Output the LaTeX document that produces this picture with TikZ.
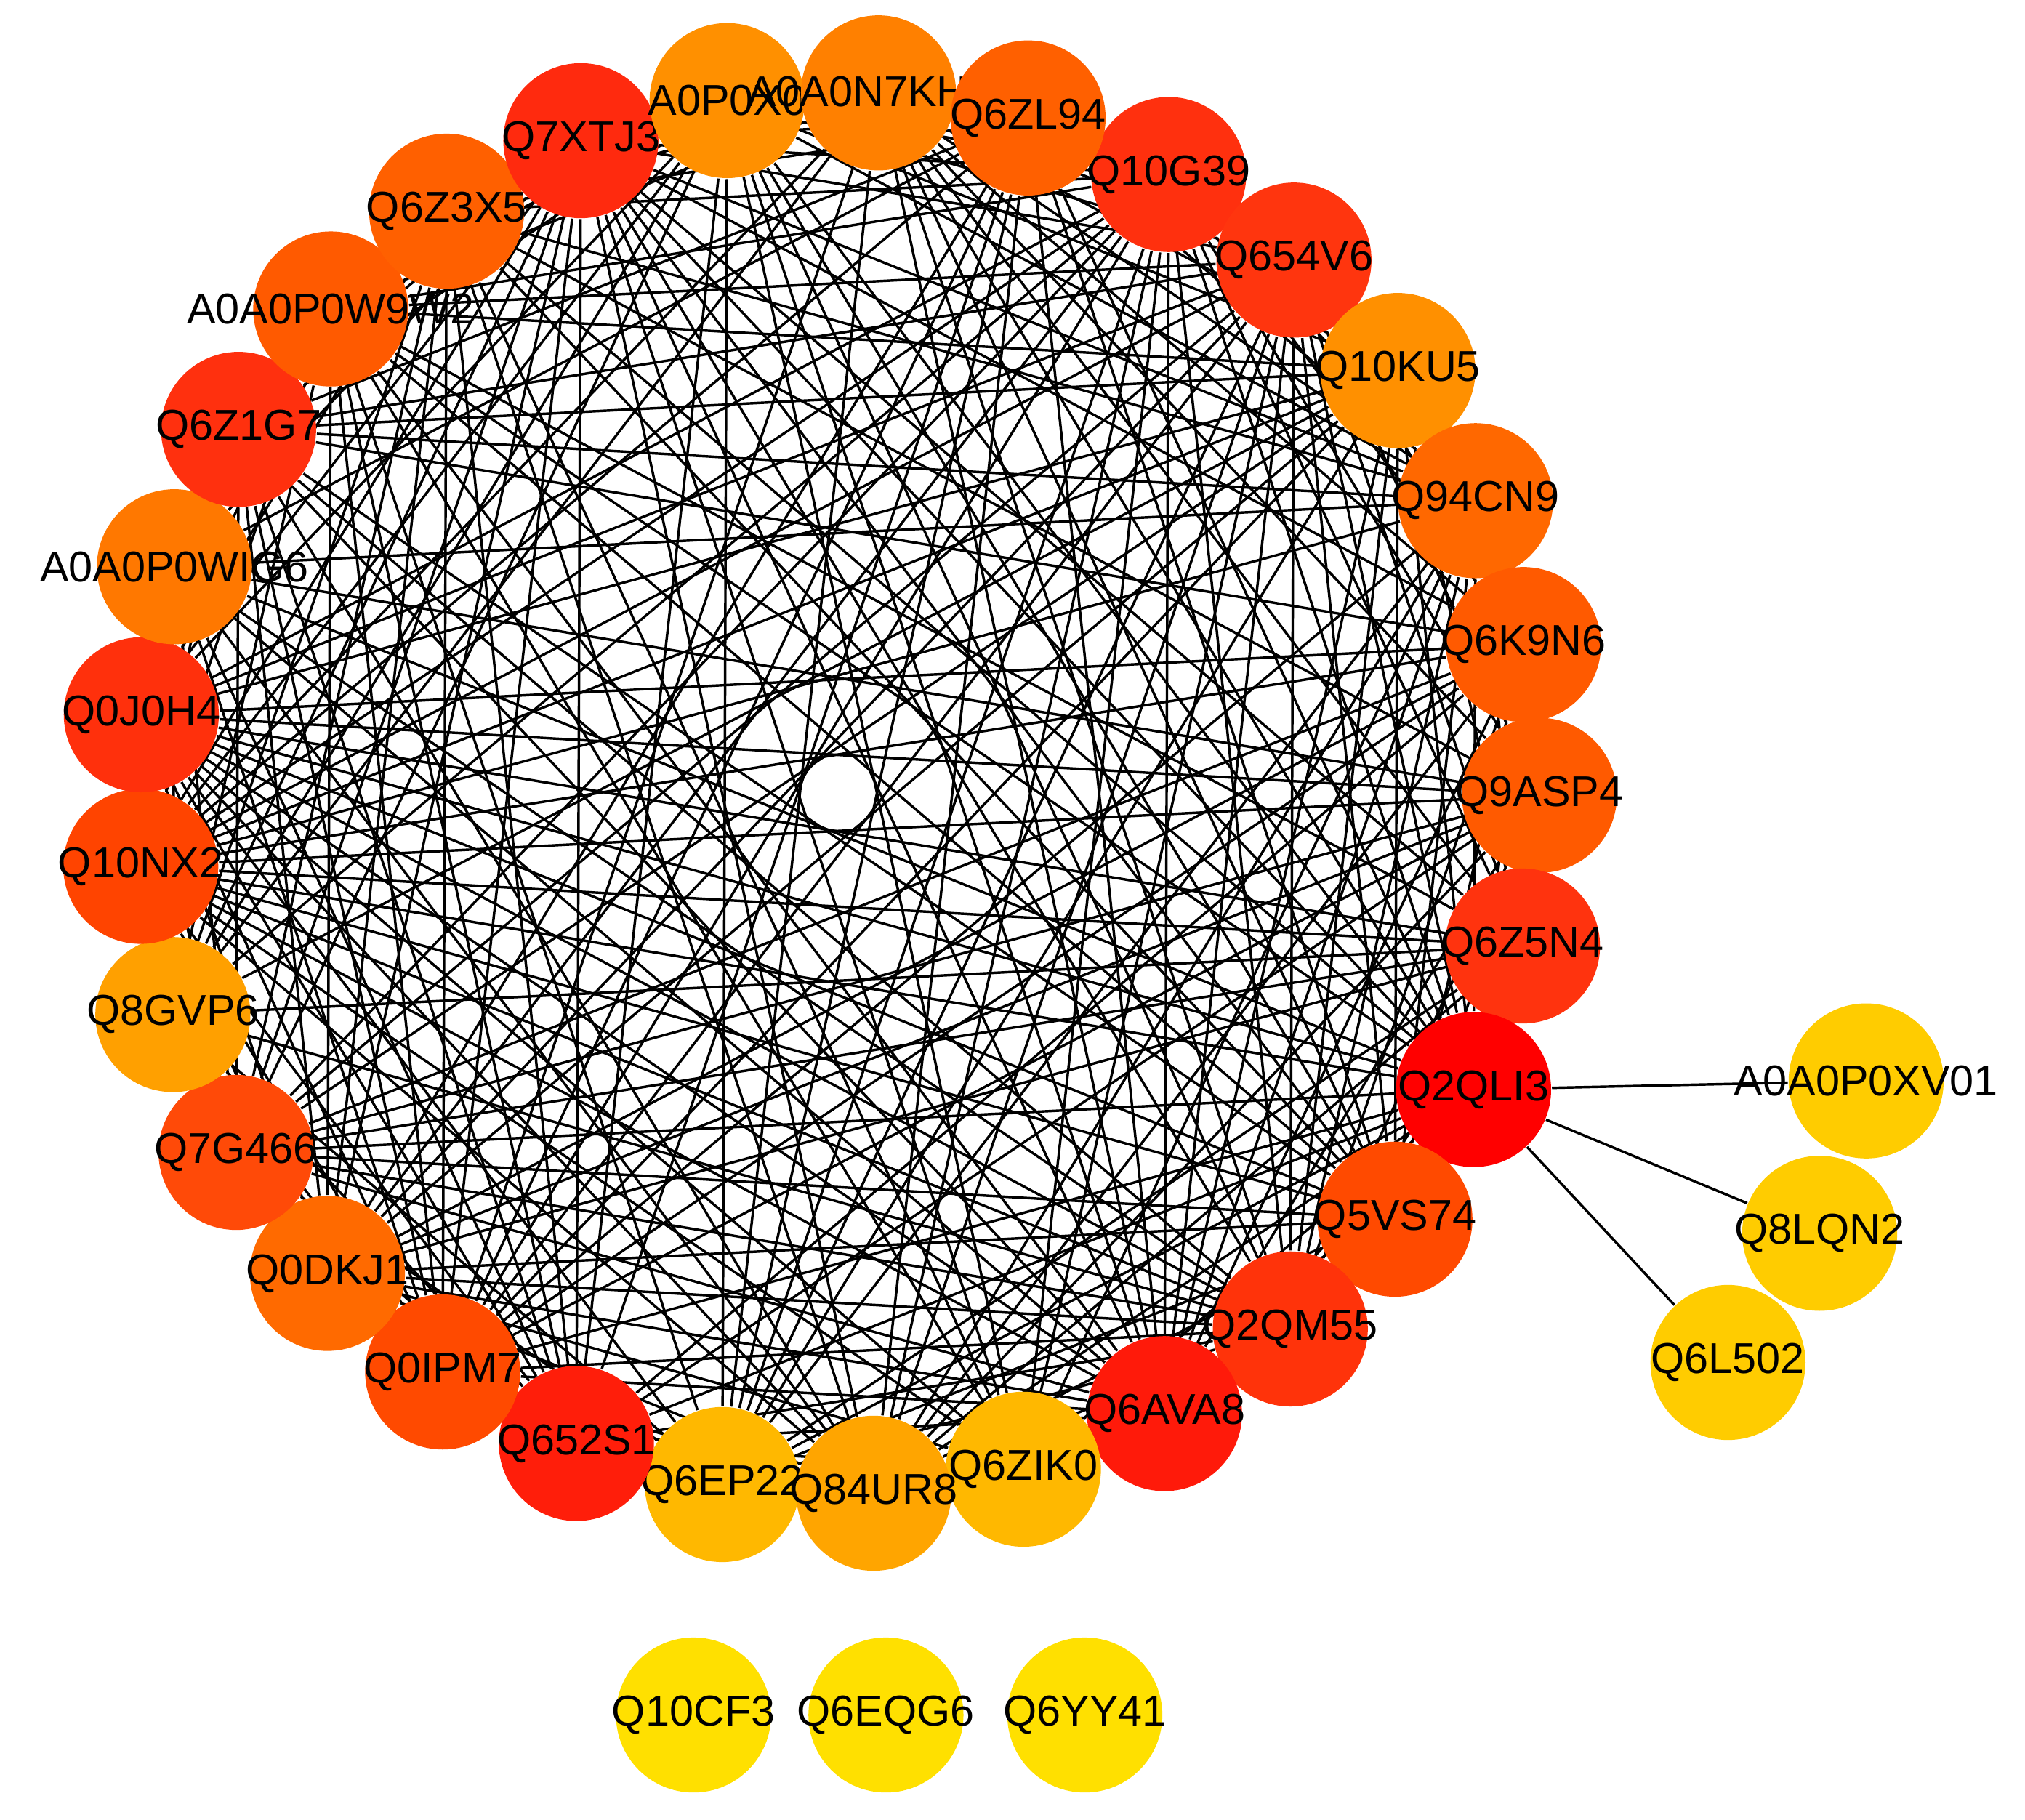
\documentclass[tikz,border=0pt]{standalone}
\usepackage{fontspec}
\setmainfont{Liberation Sans}
\pgfdeclarelayer{edges}
\pgfsetlayers{edges,main}
\definecolor{lowA}{RGB}{255,204,0}
\definecolor{lowB}{RGB}{255,224,0}
\newcommand\rnode[4]{%
  \pgfmathsetmacro\rnang{86.7-12.4138*#1}%
  \pgfmathsetmacro\rnx{649+543*cos(\rnang)}%
  \pgfmathsetmacro\rny{614-543*sin(\rnang)}%
  \definecolor{fc#1}{RGB}{255,#3,#4}%
  \node[vtx,fill=fc#1,label={[lbl]center:#2}] (n#1) at (\rnx,\rny) {};%
}
\def\gv{{128,96,48,53,144,104,90,90,51,0,74,51,26,184,165,184,30,74,106,74,160,68,48,120,48,90,96,42,144}}
\begin{document}
\begin{tikzpicture}[x=0.01cm,y=-0.01cm,
  vtx/.style={circle,minimum size=1.2cm,inner sep=0pt,draw=none},
  lbl/.style={font=\fontsize{9.5}{11}\selectfont,text=black,inner sep=0pt},
  edge/.style={line width=0.55pt,black}]
\useasboundingbox (0,0) rectangle (1568,1409);
% ring nodes (drawing order chosen to reproduce overlaps)
\rnode{2}{Q10G39}{48}{14}
\rnode{3}{Q654V6}{53}{14}
\rnode{4}{Q10KU5}{144}{0}
\rnode{5}{Q94CN9}{104}{0}
\rnode{6}{Q6K9N6}{90}{0}
\rnode{7}{Q9ASP4}{90}{0}
\rnode{8}{Q6Z5N4}{51}{14}
\rnode{9}{Q2QLI3}{0}{0}
\rnode{10}{Q5VS74}{74}{0}
\rnode{11}{Q2QM55}{51}{10}
\rnode{12}{Q6AVA8}{26}{10}
\rnode{13}{Q6ZIK0}{184}{0}
\rnode{15}{Q6EP22}{184}{0}
\rnode{14}{Q84UR8}{165}{0}
\rnode{16}{Q652S1}{30}{10}
\rnode{17}{Q0IPM7}{74}{0}
\rnode{18}{Q0DKJ1}{106}{0}
\rnode{19}{Q7G466}{74}{8}
\rnode{20}{Q8GVP6}{160}{0}
\rnode{21}{Q10NX2}{68}{0}
\rnode{22}{Q0J0H4}{48}{12}
\rnode{23}{A0A0P0WIG6}{120}{0}
\rnode{24}{Q6Z1G7}{48}{14}
\rnode{25}{A0A0P0W9W2}{90}{0}
\rnode{26}{Q6Z3X5}{96}{0}
\rnode{27}{Q7XTJ3}{42}{14}
\rnode{28}{}{144}{0}
\node[lbl,anchor=west] (t28) at (501,77.8) {A0P0X0};
\rnode{0}{}{128}{0}
\node[lbl,anchor=west] (t0) at (578,71) {A0A0N7KH};
\rnode{1}{Q6ZL94}{96}{0}
% satellite nodes
\node[vtx,fill=lowA,label={[lbl]center:A0A0P0XV01}] (x1) at (1445,837) {};
\node[vtx,fill=lowA,label={[lbl]center:Q8LQN2}] (x2) at (1409,955) {};
\node[vtx,fill=lowA,label={[lbl]center:Q6L502}] (x3) at (1338,1055) {};
% isolated nodes
\node[vtx,fill=lowB,label={[lbl]center:Q10CF3}] (y1) at (537,1328) {};
\node[vtx,fill=lowB,label={[lbl]center:Q6EQG6}] (y2) at (686,1328) {};
\node[vtx,fill=lowB,label={[lbl]center:Q6YY41}] (y3) at (840,1328) {};
% edges
\begin{pgfonlayer}{edges}
\pgfmathsetseed{31}
\foreach \i in {0,...,27}{
  \pgfmathtruncatemacro\ii{\i+1}
  \foreach \j in {\ii,...,28}{
    \pgfmathsetmacro\pp{(1-0.36*\gv[\i]/184)*(1-0.36*\gv[\j]/184)}
    \pgfmathsetmacro\rr{rnd}
    \ifdim\rr pt<\pp pt\relax\draw[edge] (n\i) -- (n\j);\fi
  }
}
\draw[edge] (n9) -- (x1);
\draw[edge] (n9) -- (x2);
\draw[edge] (n9) -- (x3);
\end{pgfonlayer}
\end{tikzpicture}
\end{document}
